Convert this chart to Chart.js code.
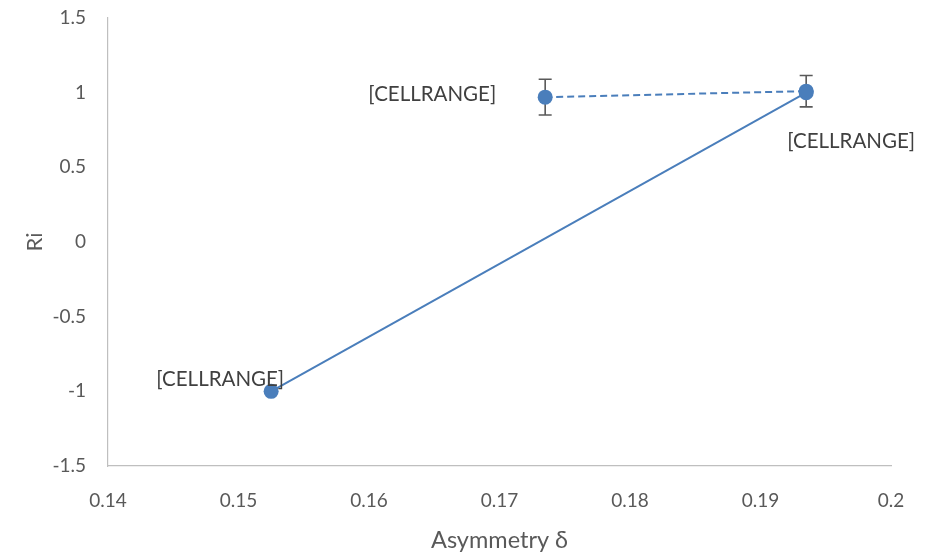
<!DOCTYPE html>
<html>
<head>
<meta charset="utf-8">
<script src="https://cdn.jsdelivr.net/npm/chart.js@4/dist/chart.umd.min.js"></script>
<style>
html,body{margin:0;padding:0;background:#fff;}
#wrap{width:929px;height:557px;}
</style>
</head>
<body>
<div id="wrap"><canvas id="c" width="929" height="557"></canvas></div>
<script>
// Series A (solid line)
const solidX = [0.1525, 0.1935];
const solidY = [-1.0, 1.0];
const solidLabels = ["[CELLRANGE]", "[CELLRANGE]"];
// Series B (dashed line, with error bars)
const dashX = [0.1735, 0.1935];
const dashY = [0.97, 1.01];
const dashErr = [0.12, 0.105];
const dashLabels = ["[CELLRANGE]", ""];
// Axes
const xMin = 0.14, xMax = 0.2, xStep = 0.01;
const yMin = -1.5, yMax = 1.5, yStep = 0.5;
const xTitle = "Asymmetry δ";
const yTitle = "Ri";

const BLUE = '#4a7ebb';
const FONT = 'Lato, "Open Sans", sans-serif';

const extras = {
  id: 'extras',
  beforeDatasetsDraw(chart) {
    const ctx = chart.ctx, xs = chart.scales.x, ys = chart.scales.y;
    ctx.save();
    ctx.strokeStyle = '#595959';
    ctx.lineWidth = 1.6;
    dashX.forEach((xv, i) => {
      const px = xs.getPixelForValue(xv);
      const t = ys.getPixelForValue(dashY[i] + dashErr[i]);
      const b = ys.getPixelForValue(dashY[i] - dashErr[i]);
      ctx.beginPath();
      ctx.moveTo(px, t); ctx.lineTo(px, b);
      ctx.moveTo(px - 6.5, t); ctx.lineTo(px + 6.5, t);
      ctx.moveTo(px - 6.5, b); ctx.lineTo(px + 6.5, b);
      ctx.stroke();
    });
    ctx.restore();
  },
  afterDatasetsDraw(chart) {
    const ctx = chart.ctx, xs = chart.scales.x, ys = chart.scales.y;
    ctx.save();
    ctx.fillStyle = '#404040';
    ctx.font = '20.5px ' + FONT;
    ctx.textBaseline = 'middle';
    const draw = (txt, x, y, align) => { if (!txt) return; ctx.textAlign = align; ctx.fillText(txt, x, y); };
    let px = xs.getPixelForValue(solidX[0]), py = ys.getPixelForValue(solidY[0]);
    draw(solidLabels[0], px + 13, py - 12, 'right');
    px = xs.getPixelForValue(solidX[1]); py = ys.getPixelForValue(solidY[1]);
    draw(solidLabels[1], px + 45, py + 49, 'center');
    px = xs.getPixelForValue(dashX[0]); py = ys.getPixelForValue(dashY[0]);
    draw(dashLabels[0], px - 49, py - 3, 'right');
    px = xs.getPixelForValue(dashX[1]); py = ys.getPixelForValue(dashY[1]);
    draw(dashLabels[1], px - 49, py - 3, 'right');
    ctx.restore();
  }
};

const fmt = v => String(Number(Number(v).toFixed(2)));

new Chart(document.getElementById('c'), {
  type: 'scatter',
  data: {
    datasets: [
      {
        data: solidX.map((x, i) => ({x, y: solidY[i]})),
        showLine: true,
        borderColor: BLUE,
        backgroundColor: BLUE,
        borderWidth: 2,
        pointRadius: 7.5,
        pointBorderWidth: 0,
        pointBackgroundColor: BLUE,
        tension: 0
      },
      {
        data: dashX.map((x, i) => ({x, y: dashY[i]})),
        showLine: true,
        borderColor: BLUE,
        backgroundColor: BLUE,
        borderWidth: 2,
        borderDash: [7, 4],
        pointRadius: 7.5,
        pointBorderWidth: 0,
        pointBackgroundColor: BLUE,
        tension: 0
      }
    ]
  },
  options: {
    responsive: false,
    animation: false,
    devicePixelRatio: 1,
    layout: { padding: { top: 18, right: 38, left: 0, bottom: 0 } },
    plugins: { legend: { display: false }, tooltip: { enabled: false } },
    scales: {
      x: {
        type: 'linear',
        min: xMin, max: xMax,
        grid: { display: false, drawTicks: false },
        border: { color: '#bfbfbf', width: 1.2 },
        ticks: { stepSize: xStep, padding: 23, color: '#595959', font: { family: FONT, size: 19 }, callback: fmt, maxRotation: 0 },
        title: { display: true, text: xTitle, color: '#595959', font: { family: FONT, size: 23.5 }, padding: { top: 2, bottom: 2 } },
        afterFit: s => { s.height = 91; s.paddingLeft = 0; s.paddingRight = 0; }
      },
      y: {
        type: 'linear',
        min: yMin, max: yMax,
        grid: { display: false, drawTicks: false },
        border: { color: '#bfbfbf', width: 1.2 },
        ticks: { stepSize: yStep, padding: 22, color: '#595959', font: { family: FONT, size: 19 }, callback: fmt },
        title: { display: true, text: yTitle, color: '#595959', font: { family: FONT, size: 22 }, padding: { top: 22, bottom: 0 } },
        afterFit: s => { s.width = 108; s.paddingTop = 0; s.paddingBottom = 0; }
      }
    }
  },
  plugins: [extras]
});
</script>
</body>
</html>
